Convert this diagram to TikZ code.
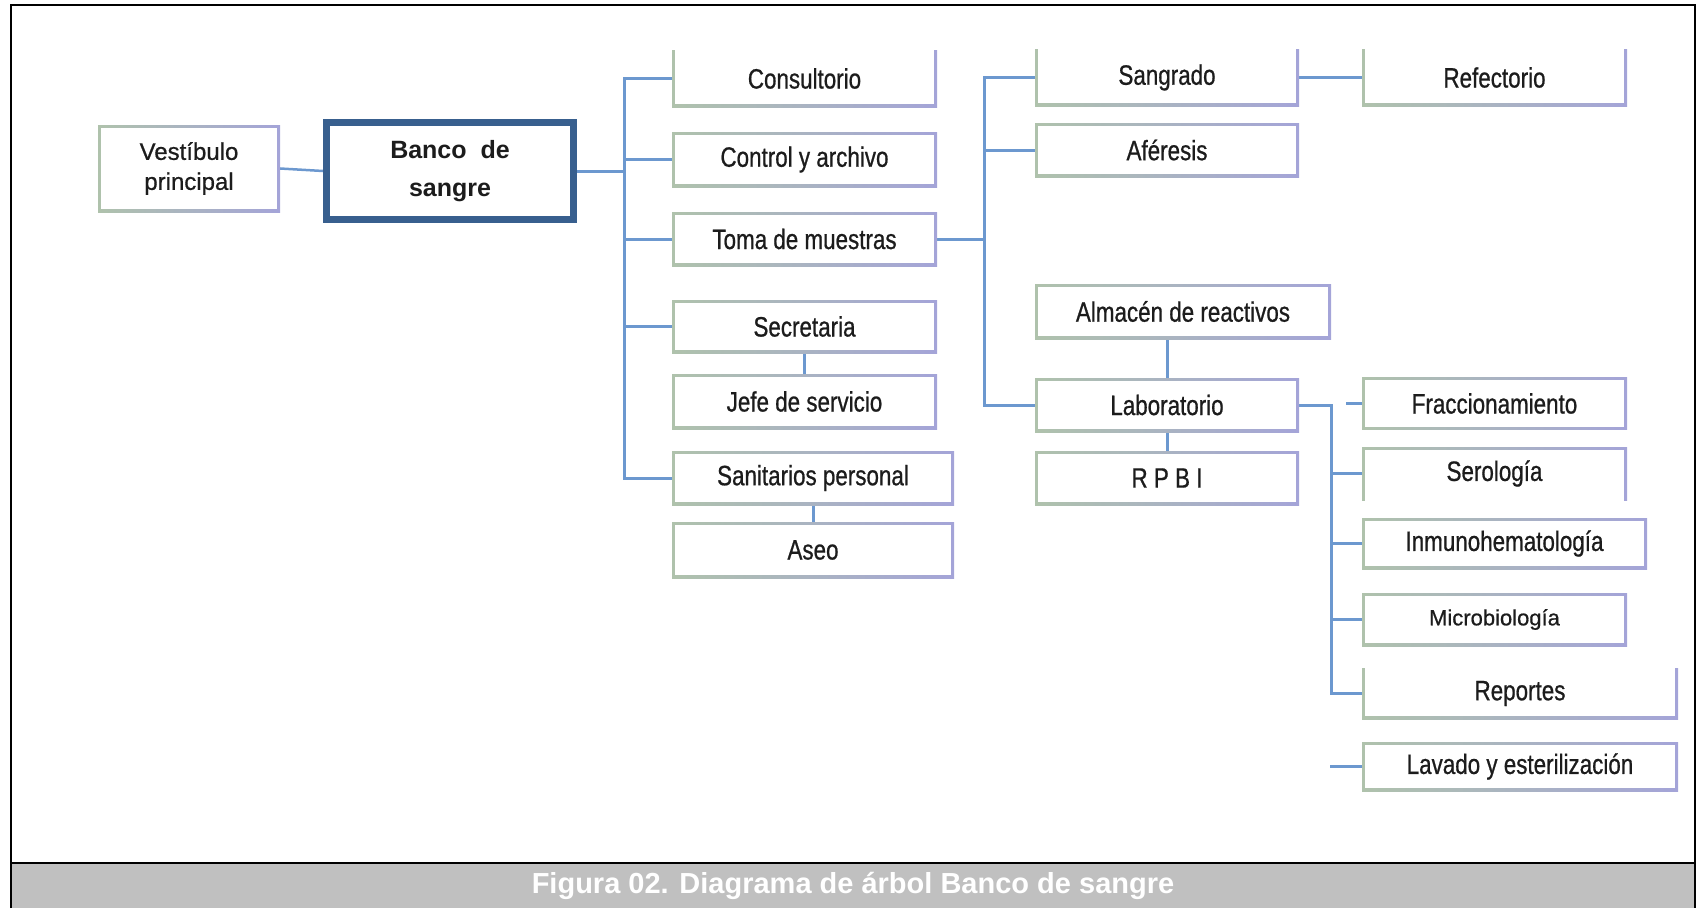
\documentclass[tikz,border=0pt]{standalone}
\usepackage{fontspec}
\setmainfont{Liberation Sans}
\newfontfamily\roomfont[FakeStretch=0.8, FakeBold=0.7]{Liberation Sans}
\newfontfamily\plainroomfont[FakeBold=0.7]{Liberation Sans}
\usetikzlibrary{calc,backgrounds}

\definecolor{edgeL}{HTML}{AFC2AC}
\definecolor{edgeM}{HTML}{E4EAF9}
\definecolor{edgeR}{HTML}{A4A4D8}
\definecolor{linkblue}{HTML}{6C98CF}
\definecolor{bancoblue}{HTML}{385F8E}
\definecolor{bandgray}{HTML}{C0C0C0}
\definecolor{ink}{HTML}{1C1C1C}

% gradient outline: #1 = top offset of the white interior, #2 = bottom offset
\newcommand\roomframe[2]{%
  \shade[left color=edgeL, middle color=edgeM, right color=edgeR]
    (path picture bounding box.south west) rectangle (path picture bounding box.north east);
  \fill[white]
    ([xshift=2.6pt,yshift=#2]path picture bounding box.south west) rectangle
    ([xshift=-2.6pt,yshift=#1]path picture bounding box.north east);
}

\tikzset{
  room/.style={inner sep=0pt, text=ink,
    font={\roomfont\fontsize{28pt}{32pt}\selectfont},
    path picture={\roomframe{-2.6pt}{2.6pt}}},
  opentop/.style={path picture={\roomframe{4pt}{2.6pt}}},
  openbottom/.style={path picture={\roomframe{-2.6pt}{-4pt}}},
  link/.style={draw=linkblue, line width=3pt, line cap=rect},
}

\begin{document}
\begin{tikzpicture}[x=1pt, y=-1pt]
\useasboundingbox (0,0) rectangle (1697,908);

% page frame and caption band
\fill[bandgray] (11,863) rectangle (1695,908);
\draw[black, line width=1.5pt] (11,908) -- (11,5) -- (1695,5) -- (1695,908);
\draw[black, line width=2.5pt] (11,863) -- (1695,863);
\node[text=white, font={\bfseries\fontsize{29pt}{32pt}\selectfont}] (caption) at (853,886)
  {Figura 02. Diagrama de árbol Banco de sangre};

% root
\node[room, minimum width=182pt, minimum height=87pt, align=center,
      font={\plainroomfont\fontsize{24pt}{30pt}\selectfont}] (ves) at (189,168.5) {Vestíbulo\\principal};
\node[draw=bancoblue, line width=7pt, fill=white, text=ink, inner sep=0pt,
      minimum width=247pt, minimum height=97pt, align=center,
      font={\bfseries\fontsize{25pt}{38pt}\selectfont}] (banco) at (450,171) {Banco\ \ de\\sangre};

% first level
\node[room, opentop, minimum width=265pt, minimum height=57pt] (cons) at (804.5,78.5) {Consultorio};
\node[room, minimum width=265pt, minimum height=55pt] (ctrl) at (804.5,159.5) {Control y archivo};
\node[room, minimum width=265pt, minimum height=54pt] (toma) at (804.5,239) {Toma de muestras};
\node[room, minimum width=265pt, minimum height=53pt] (secr) at (804.5,326.5) {Secretaria};
\node[room, minimum width=265pt, minimum height=55pt] (jefe) at (804.5,401.5) {Jefe de servicio};
\node[room, minimum width=282pt, minimum height=54pt] (sani) at (813,478) {Sanitarios personal};
\node[room, minimum width=282pt, minimum height=56pt] (aseo) at (813,550) {Aseo};

% second level
\node[room, opentop, minimum width=264pt, minimum height=57pt] (sang) at (1167,77.5) {Sangrado};
\node[room, minimum width=264pt, minimum height=54pt] (afer) at (1167,150) {Aféresis};
\node[room, minimum width=296pt, minimum height=55pt] (alma) at (1183,311.5) {Almacén de reactivos};
\node[room, minimum width=264pt, minimum height=54pt] (lab) at (1167,405) {Laboratorio};
\node[room, minimum width=264pt, minimum height=54pt] (rpbi) at (1167,478) {R P B I};
\node[room, opentop, minimum width=265pt, minimum height=57pt] (refe) at (1494.5,77.5) {Refectorio};

% laboratory areas
\node[room, minimum width=265pt, minimum height=52pt] (frac) at (1494.5,403.5) {Fraccionamiento};
\node[room, openbottom, minimum width=265pt, minimum height=53pt] (sero) at (1494.5,473.5) {Serología};
\node[room, minimum width=285pt, minimum height=51pt] (inmu) at (1504.5,543.5) {Inmunohematología};
\node[room, minimum width=265pt, minimum height=53pt,
      font={\plainroomfont\fontsize{22pt}{26pt}\selectfont}] (micr) at (1494.5,619.5) {Microbiología};
\node[room, opentop, minimum width=316pt, minimum height=51pt] (repo) at (1520,693.5) {Reportes};
\node[room, minimum width=316pt, minimum height=49pt] (lava) at (1520,766.5) {Lavado y esterilización};

% vertical trunks
\coordinate (tA) at (624,0);
\coordinate (tB) at (984,0);
\coordinate (tC) at (1331,0);

\begin{scope}[on background layer]
  \draw[link, line width=2.5pt] (ves.east) -- (banco.west);
  % first level
  \draw[link] (banco.east) -- (banco.east -| tA);
  \draw[link] (cons.west -| tA) -- (sani.west -| tA);
  \foreach \n in {cons,ctrl,toma,secr,sani}
    \draw[link] (\n.west -| tA) -- (\n.west);
  \draw[link] (secr.south) -- (jefe.north);
  \draw[link] (sani.south) -- (aseo.north);
  % second level
  \draw[link] (toma.east) -- (toma.east -| tB);
  \draw[link] (sang.west -| tB) -- (lab.west -| tB);
  \foreach \n in {sang,afer,lab}
    \draw[link] (\n.west -| tB) -- (\n.west);
  \draw[link] (sang.east) -- (refe.west);
  \draw[link] (lab.north |- alma.south) -- (lab.north);
  \draw[link] (lab.south) -- (rpbi.north);
  % laboratory areas
  \draw[link] (lab.east) -- (lab.east -| tC);
  \draw[link] (lab.east -| tC) -- (repo.west -| tC);
  \foreach \n in {sero,inmu,micr,repo}
    \draw[link] (\n.west -| tC) -- (\n.west);
  \draw[link] ($(frac.west)+(-14pt,0)$) -- (frac.west);
  \draw[link] (lava.west -| tC) -- (lava.west);
\end{scope}
\end{tikzpicture}
\end{document}
